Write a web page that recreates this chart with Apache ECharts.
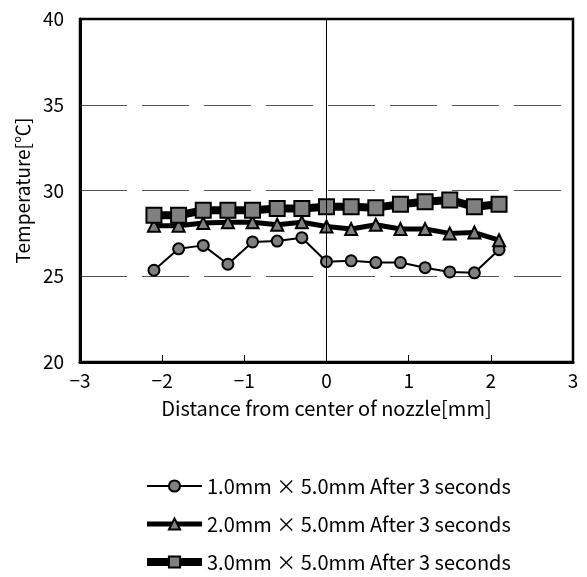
<!DOCTYPE html>
<html>
<head>
<meta charset="utf-8">
<script src="https://cdn.jsdelivr.net/npm/echarts@6/dist/echarts.min.js"></script>
<style>
  html, body { margin: 0; padding: 0; background: #fff; }
  #chart { width: 587px; height: 577px; }
</style>
</head>
<body>
<div id="chart"></div>
<script>
const distances = [-2.1, -1.8, -1.5, -1.2, -0.9, -0.6, -0.3, 0, 0.3, 0.6, 0.9, 1.2, 1.5, 1.8, 2.1];
const temp1mm = [25.35, 26.6, 26.8, 25.7, 27.0, 27.05, 27.25, 25.85, 25.9, 25.8, 25.8, 25.5, 25.25, 25.2, 26.55];
const temp2mm = [27.95, 27.95, 28.1, 28.15, 28.15, 28.0, 28.15, 27.9, 27.75, 28.0, 27.75, 27.75, 27.5, 27.55, 27.1];
const temp3mm = [28.55, 28.55, 28.85, 28.85, 28.85, 28.95, 28.95, 29.05, 29.05, 29.0, 29.2, 29.35, 29.45, 29.05, 29.2];
const seriesNames = [
  "1.0mm × 5.0mm After 3 seconds",
  "2.0mm × 5.0mm After 3 seconds",
  "3.0mm × 5.0mm After 3 seconds"
];
const lineWidths = [2, 5, 8];

const font = "'Noto Sans CJK JP', sans-serif";
const pairs = (vals) => distances.map((d, i) => [d, vals[i]]);

const chart = echarts.init(document.getElementById("chart"));

const markerStyle = { color: "#808080", borderColor: "#000", borderWidth: 2 };

chart.setOption({
  animation: false,
  textStyle: { fontFamily: font, color: "#000" },
  grid: {
    left: 80, right: 14, top: 19, bottom: 215,
    show: true, borderColor: "#000", borderWidth: 2.5
  },
  xAxis: {
    type: "value", min: -3, max: 3, interval: 1,
    name: "Distance from center of nozzle[mm]",
    nameLocation: "middle", nameGap: 36,
    nameTextStyle: { fontSize: 20, color: "#000", fontFamily: font },
    axisLine: { onZero: false, lineStyle: { color: "#000", width: 3 } },
    axisTick: { show: true, inside: true, length: 7, lineStyle: { color: "#000", width: 1 } },
    axisLabel: { fontSize: 19, color: "#000", margin: 9, fontFamily: font,
      formatter: (v) => (v < 0 ? "\u2212" + Math.abs(v) : String(v)) },
    splitLine: { show: false }
  },
  yAxis: {
    type: "value", min: 20, max: 40, interval: 5,
    name: "Temperature[℃]",
    nameLocation: "middle", nameGap: 47,
    nameTextStyle: { fontSize: 19, color: "#000", fontFamily: font },
    axisLine: { onZero: false, lineStyle: { color: "#000", width: 3 } },
    axisTick: { show: false },
    axisLabel: { fontSize: 19, color: "#000", margin: 16, fontFamily: font },
    splitLine: {
      showMinLine: false, showMaxLine: false,
      lineStyle: { color: "#555", width: 1, type: [47, 15] }
    }
  },
  legend: {
    orient: "vertical", left: 143, top: 476, height: 120, padding: 0,
    itemWidth: 55, itemHeight: 14, itemGap: 18,
    textStyle: { fontSize: 20, lineHeight: 20, color: "#000", fontFamily: font, padding: [0, 0, 0, 0] },
    data: seriesNames.map((n, i) => ({ name: n, lineStyle: { width: lineWidths[i] } }))
  },
  series: [
    {
      name: seriesNames[0], type: "line", data: pairs(temp1mm),
      symbol: "circle", symbolSize: 11,
      lineStyle: { color: "#000", width: lineWidths[0] },
      itemStyle: markerStyle,
      markLine: {
        silent: true, symbol: "none", label: { show: false },
        lineStyle: { color: "#000", width: 1, type: "solid" },
        emphasis: { disabled: true },
        data: [{ xAxis: 0 }]
      }
    },
    {
      name: seriesNames[1], type: "line", data: pairs(temp2mm),
      symbol: "triangle", symbolSize: 12,
      lineStyle: { color: "#000", width: lineWidths[1] },
      itemStyle: markerStyle
    },
    {
      name: seriesNames[2], type: "line", data: pairs(temp3mm),
      symbol: "rect", symbolSize: 15,
      lineStyle: { color: "#000", width: lineWidths[2] },
      itemStyle: markerStyle
    }
  ]
});
</script>
</body>
</html>
